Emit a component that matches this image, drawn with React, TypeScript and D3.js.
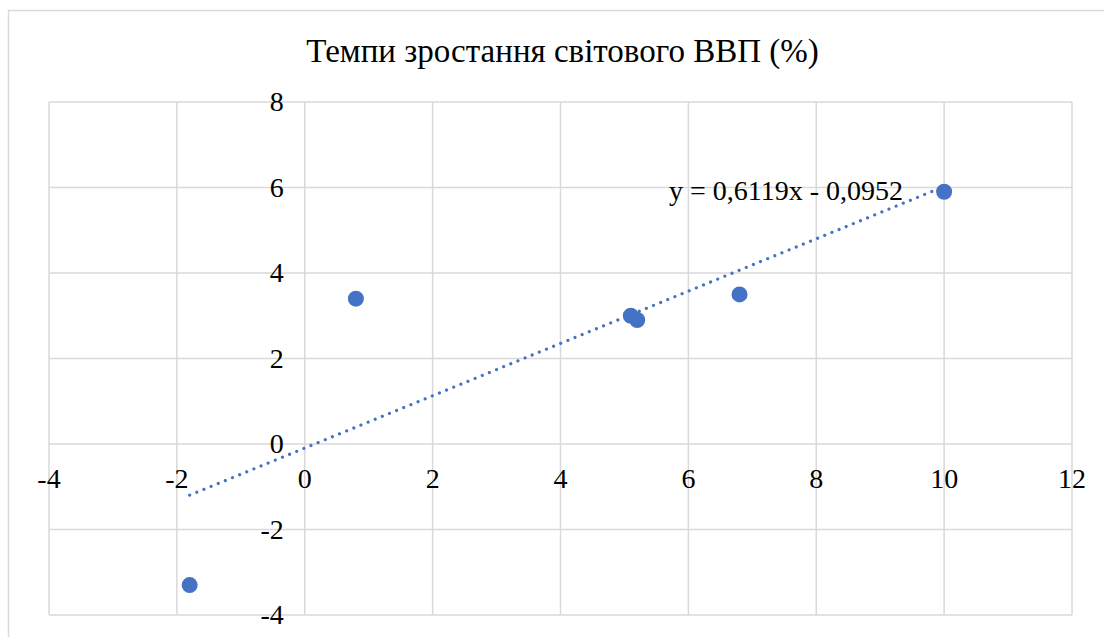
import { useEffect, useRef } from 'react';
import * as d3 from 'd3';

// ── Data ─────────────────────────────────────────────────────────────────────
const TITLE = 'Темпи зростання світового ВВП (%)';
const X_VALUES = [-1.8, 0.8, 5.1, 5.2, 6.8, 10];
const Y_VALUES = [-3.3, 3.4, 3.0, 2.9, 3.5, 5.9];
const X_TICKS = [-4, -2, 0, 2, 4, 6, 8, 10, 12];
const Y_TICKS = [-4, -2, 0, 2, 4, 6, 8];
const TREND_SLOPE = 0.6119;
const TREND_INTERCEPT = -0.0952;
const TREND_LABEL = 'y = 0,6119x - 0,0952';

const W = 1104, H = 637;
const BLUE = '#4472C4';
const GRID = '#d9d9d9';
const FONT = "'Liberation Serif', 'Times New Roman', 'DejaVu Serif', serif";

export default function App() {
  const svgRef = useRef<SVGSVGElement | null>(null);

  useEffect(() => {
    if (!svgRef.current) return;
    const svg = d3.select(svgRef.current);
    svg.selectAll('*').remove();

    const x = d3.scaleLinear().domain([-4, 12]).range([49, 1072]);
    const y = d3.scaleLinear().domain([-4, 8]).range([615, 102]);

    // outer chart border
    svg.append('rect')
      .attr('x', 8.5).attr('y', 10.5).attr('width', 1200).attr('height', 800)
      .attr('fill', '#fff').attr('stroke', GRID).attr('stroke-width', 1.5);

    // grid
    svg.selectAll('line.hgrid').data(Y_TICKS).enter().append('line')
      .attr('x1', x(-4)).attr('x2', x(12))
      .attr('y1', d => y(d)).attr('y2', d => y(d))
      .attr('stroke', GRID).attr('stroke-width', 1.5);
    svg.selectAll('line.vgrid').data(X_TICKS).enter().append('line')
      .attr('x1', d => x(d)).attr('x2', d => x(d))
      .attr('y1', y(8)).attr('y2', y(-4))
      .attr('stroke', GRID).attr('stroke-width', 1.5);

    // tick labels
    svg.selectAll('text.xt').data(X_TICKS).enter().append('text')
      .attr('x', d => x(d)).attr('y', y(0) + 44)
      .attr('text-anchor', 'middle')
      .attr('font-family', FONT).attr('font-size', 28).attr('fill', '#000')
      .text(d => d);
    svg.selectAll('text.yt').data(Y_TICKS).enter().append('text')
      .attr('x', x(0) - 21).attr('y', d => y(d) + 9)
      .attr('text-anchor', 'end')
      .attr('font-family', FONT).attr('font-size', 28).attr('fill', '#000')
      .text(d => d);

    // trendline
    const x0 = d3.min(X_VALUES)!, x1 = d3.max(X_VALUES)!;
    svg.append('line')
      .attr('x1', x(x0)).attr('y1', y(TREND_SLOPE * x0 + TREND_INTERCEPT))
      .attr('x2', x(x1)).attr('y2', y(TREND_SLOPE * x1 + TREND_INTERCEPT))
      .attr('stroke', BLUE).attr('stroke-width', 3.2)
      .attr('stroke-linecap', 'round').attr('stroke-dasharray', '0.01 7.7');

    // points
    svg.selectAll('circle.pt').data(X_VALUES).enter().append('circle')
      .attr('cx', d => x(d)).attr('cy', (_, i) => y(Y_VALUES[i]))
      .attr('r', 8).attr('fill', BLUE);

    // trend label
    svg.append('text')
      .attr('x', 903).attr('y', 200).attr('text-anchor', 'end')
      .attr('font-family', FONT).attr('font-size', 28).attr('fill', '#000')
      .text(TREND_LABEL);

    // title
    svg.append('text')
      .attr('x', 562.5).attr('y', 62).attr('text-anchor', 'middle')
      .attr('font-family', FONT).attr('font-size', 33).attr('fill', '#000')
      .text(TITLE);
  }, []);

  return (
    <div style={{ position: 'fixed', left: 0, top: 0, width: W, height: H, background: '#fff' }}>
      <svg ref={svgRef} width={W} height={H} style={{ display: 'block' }} />
    </div>
  );
}
